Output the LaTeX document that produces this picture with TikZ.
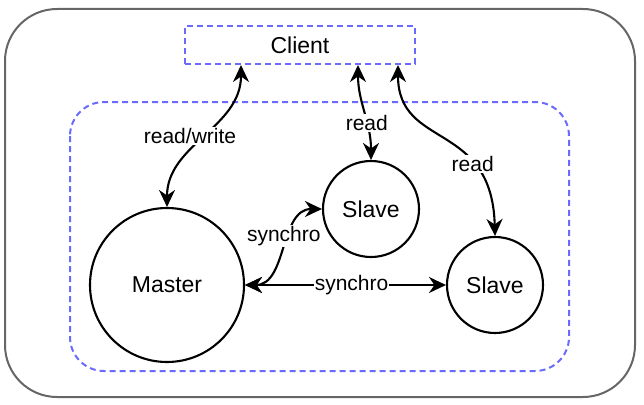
\documentclass[tikz,border=0pt]{standalone}
\usepackage{fontspec}
\setmainfont{Liberation Sans}
\usetikzlibrary{arrows.meta,positioning}
\definecolor{framegray}{HTML}{666666}
\definecolor{dashblue}{HTML}{6A6AFF}
\tikzset{
  outerbox/.style={draw=framegray,line width=2pt,rounded corners=52pt},
  groupbox/.style={draw=dashblue,line width=2pt,dash pattern=on 6pt off 4pt,
                   rounded corners=34pt},
  clientbox/.style={draw=dashblue,line width=2pt,dash pattern=on 6pt off 4pt,
                    minimum width=230pt,minimum height=38pt,inner sep=0pt,
                    font=\fontsize{23}{27}\selectfont},
  dbnode/.style={circle,draw=black,line width=2.1pt,fill=white,inner sep=0pt,
                 font=\fontsize{23}{27}\selectfont},
  tagtext/.style={fill=white,inner sep=1pt,font=\fontsize{21}{25}\selectfont},
  linkarr/.style={{Stealth[length=17pt,width=16pt,inset=5.5pt]}-{Stealth[length=17pt,width=16pt,inset=5.5pt]},
                  line width=2.1pt}
}

\begin{document}
\begin{tikzpicture}[x=1pt,y=-1pt]
  \useasboundingbox (0,0) rectangle (644,404);

  % frames
  \draw[outerbox] (5,9) rectangle (635,397);
  \draw[groupbox] (70,102) rectangle (569,371);

  % client and the three nodes
  \node[clientbox] (client) at (300,45) {Client};
  \node[dbnode,minimum size=154pt] (master) at (167,285) {Master};
  \node[dbnode,minimum size=96pt] (slaveA) at (371,209) {Slave};
  \node[dbnode,minimum size=96pt] (slaveB) at (495,285) {Slave};

  \coordinate (cA) at ([xshift=-59pt]client.south);
  \coordinate (cB) at ([xshift=58pt]client.south);
  \coordinate (cC) at ([xshift=98pt]client.south);

  % client links
  \draw[linkarr] (cA) to[out=-90,in=90]
    node[tagtext,pos=0.5,xshift=-14pt] {read/write} (master.north);
  \draw[linkarr] (cB) to[out=-90,in=90]
    node[tagtext,pos=0.62] {read} (slaveA.north);
  \draw[linkarr] (cC) .. controls (398,150) and (492,120) .. (slaveB.north)
    node[tagtext,pos=0.7] {read};

  % replication
  \draw[linkarr] (master.east) to[out=0,in=180]
    node[tagtext,pos=0.6,xshift=-5pt] {synchro} (slaveA.west);
  \draw[linkarr] (master.east) --
    node[tagtext,pos=0.53] {synchro} (slaveB.west);
\end{tikzpicture}
\end{document}
